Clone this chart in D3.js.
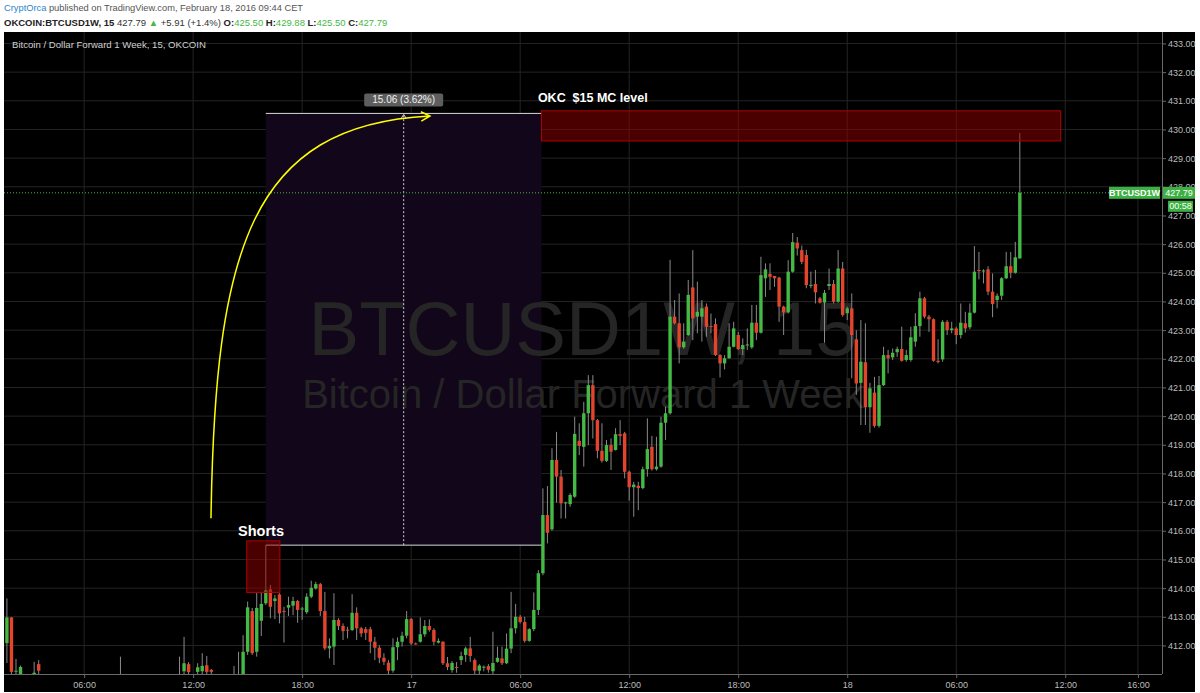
<!DOCTYPE html>
<html>
<head>
<meta charset="utf-8">
<title>BTCUSD1W, 15</title>
<script src="https://cdn.jsdelivr.net/npm/d3@7/dist/d3.min.js"></script>
<style>
  html, body { margin:0; padding:0; background:#ffffff; }
  svg { display:block; font-family: "Liberation Sans", Arial, sans-serif; }
  text { white-space: pre; }
</style>
</head>
<body>
<svg id="chart" width="1200" height="693"></svg>
<script>
// ---------------- DATA (15-minute bars, index = bar number) ----------------
const barIndex = [0,1,2,3,6,7,25,38,39,40,42,43,44,45,50,51].concat(d3.range(52, 224));

const openPrices = [
  412.08,412.98,411.10,411.00,411.00,411.35,410.95,410.95,411.10,411.35,411.08,411.10,411.31,411.15,410.90,410.95,
  411.00,411.78,413.20,411.78,412.86,413.47,413.96,413.55,
  413.78,413.20,413.32,413.39,413.55,413.27,413.16,413.70,413.99,414.14,
  413.20,411.90,411.96,412.89,412.68,412.55,412.54,413.14,412.60,412.57,
  412.57,412.13,411.92,411.57,411.40,411.12,411.94,412.13,412.34,412.92,
  412.07,412.13,412.39,412.68,412.54,412.10,412.13,411.38,411.14,411.25,
  411.49,411.67,411.90,411.49,411.12,411.25,411.28,411.10,411.43,411.55,
  411.38,411.89,412.60,413.00,412.82,412.16,412.57,413.24,414.52,416.55,
  416.05,418.47,417.89,416.98,416.93,417.19,419.14,418.93,420.10,421.08,
  419.86,418.79,418.44,418.99,418.82,419.37,419.40,418.06,417.52,417.57,
  417.49,418.15,418.93,418.15,418.24,419.77,420.10,423.47,423.24,422.40,
  422.83,424.49,423.47,423.47,423.82,423.14,423.21,422.13,421.84,422.02,
  422.42,422.83,422.34,422.48,422.40,423.26,422.91,424.81,424.96,424.89,
  424.83,423.82,423.62,425.04,426.05,425.79,425.62,424.57,424.61,424.11,
  423.96,424.54,424.61,423.99,425.15,423.59,423.76,422.68,421.16,421.88,
  420.31,420.82,419.66,421.08,422.13,422.05,422.23,422.34,421.96,421.96,
  422.60,423.14,424.11,423.47,423.38,421.93,421.98,423.29,423.00,423.06,
  422.83,423.24,423.10,423.61,425.10,425.08,425.12,424.34,424.05,424.20,
  424.81,425.23,425.00,425.50
];
const highPrices = [
  413.64,412.98,411.53,411.30,411.43,411.49,411.61,411.61,412.30,411.42,411.38,411.73,411.63,411.18,411.28,411.78,
  412.36,413.53,413.31,413.83,413.87,415.50,414.11,413.76,
  413.82,413.35,413.70,413.70,413.59,413.35,413.82,414.26,414.22,414.18,
  413.87,412.25,413.82,412.95,412.77,412.65,413.79,413.33,412.65,412.65,
  412.65,412.30,412.01,411.73,411.49,412.25,412.28,412.48,413.20,412.96,
  412.10,412.98,412.89,412.91,412.60,412.25,412.15,411.60,411.46,411.42,
  411.78,411.96,412.30,411.55,411.35,411.30,411.35,412.48,411.96,411.96,
  412.42,413.87,413.45,413.06,413.00,412.60,413.85,414.63,417.48,417.56,
  418.88,419.45,418.12,417.01,417.31,419.98,419.75,420.50,421.43,421.43,
  419.90,419.75,419.17,419.22,419.58,419.86,419.45,418.10,417.71,417.71,
  418.24,419.92,419.31,419.28,419.98,420.33,425.45,424.05,424.28,423.24,
  424.75,425.79,424.69,424.05,423.93,423.58,423.41,422.16,422.13,423.24,
  423.29,422.94,422.71,423.06,423.88,423.88,425.56,425.33,425.33,424.89,
  424.86,423.85,425.44,426.39,426.25,425.95,425.80,425.04,425.10,424.16,
  424.40,425.15,424.75,425.79,425.38,423.82,424.28,423.00,423.35,423.24,
  421.16,421.37,421.40,422.42,422.31,422.36,422.42,423.12,422.31,423.12,
  423.59,424.34,424.16,423.53,423.41,422.68,423.35,423.35,423.29,423.12,
  423.93,423.64,423.93,425.93,425.73,425.12,425.23,424.98,424.28,424.85,
  425.73,425.73,426.08,429.88
];
const lowPrices = [
  411.39,411.00,410.90,410.90,410.90,411.00,410.90,410.90,411.00,411.00,411.00,411.00,411.00,411.00,410.80,410.80,
  410.90,411.67,411.67,411.61,412.33,413.41,412.95,412.92,
  412.77,412.10,413.03,413.06,412.79,412.89,413.10,413.65,413.95,413.03,
  411.84,411.55,411.32,412.54,412.19,412.25,412.50,412.19,412.30,412.19,
  411.73,411.49,411.38,411.32,411.00,411.05,411.49,411.96,412.25,412.01,
  412.03,412.10,412.30,412.48,412.01,412.07,411.32,411.14,411.05,411.05,
  411.32,411.43,411.43,411.00,411.00,411.10,411.05,411.00,411.40,411.32,
  411.35,411.73,412.42,412.77,412.10,412.13,412.50,413.06,414.45,415.56,
  416.00,416.98,416.43,416.43,416.84,417.15,418.64,418.24,418.99,419.22,
  418.53,418.38,418.40,418.12,418.80,418.99,417.83,417.05,416.49,416.72,
  417.45,417.89,418.10,418.10,418.20,419.17,420.05,423.20,421.84,422.35,
  422.80,422.65,422.89,422.60,422.77,422.89,422.10,421.35,421.63,422.00,
  422.40,422.31,422.13,422.31,422.35,422.65,422.88,424.16,424.40,424.51,
  423.29,422.83,423.58,425.00,425.60,425.30,424.46,424.46,423.93,423.93,
  422.56,424.40,423.93,423.95,423.47,423.35,421.32,420.74,419.69,419.69,
  419.42,419.60,419.60,421.05,421.49,421.96,422.07,421.90,421.90,421.90,
  422.42,422.77,423.41,422.94,421.90,421.84,421.90,422.83,422.89,422.51,
  422.71,422.91,423.03,423.58,424.77,424.63,424.22,423.45,423.76,424.05,
  424.78,424.81,424.97,425.50
];
const closePrices = [
  412.98,411.08,411.12,411.25,411.05,411.12,410.98,410.98,411.38,411.07,411.24,411.29,411.08,411.08,410.95,410.98,
  411.78,413.33,411.73,413.31,413.45,413.93,413.35,413.64,
  413.12,413.18,413.41,413.55,413.24,413.29,413.70,414.01,414.14,413.20,
  411.90,411.98,412.89,412.68,412.50,412.54,413.14,412.60,412.42,412.44,
  412.13,411.92,411.57,411.43,411.12,411.94,412.13,412.34,412.92,412.07,
  412.06,412.39,412.68,412.54,412.13,412.16,411.38,411.25,411.39,411.24,
  411.63,411.90,411.63,411.12,411.30,411.26,411.15,411.39,411.57,411.38,
  411.89,412.60,413.00,412.82,412.16,412.57,413.24,414.52,416.55,415.93,
  418.47,417.89,416.96,416.99,417.25,419.38,418.96,420.10,421.08,419.86,
  418.79,418.44,418.99,418.76,419.37,419.31,418.06,417.52,417.61,417.49,
  418.15,418.85,418.15,418.24,419.77,420.10,423.47,423.24,422.40,422.60,
  424.23,423.41,423.64,423.76,423.12,423.13,422.13,421.84,422.02,422.42,
  423.06,422.34,422.48,422.50,423.26,422.91,424.92,425.12,424.86,424.81,
  423.82,423.62,425.04,426.07,425.85,425.38,424.57,424.58,424.32,423.96,
  424.30,424.61,423.99,425.15,423.53,423.76,422.83,421.14,421.90,420.31,
  420.97,419.66,421.08,422.13,422.02,422.21,422.34,421.93,422.13,422.75,
  423.14,424.11,423.47,423.38,421.93,421.89,423.29,423.00,423.06,422.83,
  423.26,423.06,423.61,425.04,425.06,425.08,424.34,423.91,424.20,424.81,
  425.23,425.00,425.54,427.79
];

const priceTicks = [412,413,414,415,416,417,418,419,420,421,422,423,424,425,426,427,428,429,430,431,432,433];
const timeTickBars = [17,41,65,89,113,137,161,185,209,233,249];
const timeTickLabels = ["06:00","12:00","18:00","17","06:00","12:00","18:00","18","06:00","12:00","16:00"];

const lastPrice = 427.79;
const symbolLabel = "BTCUSD1W";
const countdownLabel = "00:58";

// drawings, in data units (bar index, price)
const measureBars = [57, 117.7];
const measurePrices = [415.50, 430.56];
const measureText = "15.06 (3.62%)";
const okcZoneBars = [117.7, 232.0];
const okcZonePrices = [429.60, 430.65];
const okcText = "OKC  $15 MC level";
const okcTextAnchor = [116.9, 430.96];
const shortsZoneBars = [52.8, 60.1];
const shortsZonePrices = [413.85, 415.65];
const shortsText = "Shorts";
const shortsTextAnchor = [50.9, 415.82];
const arrowBars = [44.93, 45.81, 53.51, 93.13];
const arrowPrices = [416.44, 425.79, 430.15, 430.47];

// ---------------- LAYOUT ----------------
const W = 1200, H = 693;
const plot = {left: 4, right: 1162, top: 32, bottom: 674};
const x = d3.scaleLinear().domain([-0.64, 254.3]).range([plot.left, plot.right]);
const y = d3.scaleLinear().domain([411.005, 433.40]).range([plot.bottom, plot.top]);

const UP = "#45b945", DOWN = "#e4442c", WICK = "#8a8a8a";

const svg = d3.select("#chart");
svg.append("rect").attr("width", W).attr("height", H).attr("fill", "#ffffff");

// header
const h1 = svg.append("text").attr("x", 4).attr("y", 11).attr("font-size", 9.3);
h1.append("tspan").attr("fill", "#2a86c8").text("CryptOrca");
h1.append("tspan").attr("fill", "#555").text(" published on TradingView.com, February 18, 2016 09:44 CET");

const h2 = svg.append("text").attr("x", 4).attr("y", 26).attr("font-size", 9.5).attr("fill", "#333");
const h2parts = [
  ["OKCOIN:BTCUSD1W, 15", "#222", "bold"],
  [" 427.79 ", "#333", "normal"],
  ["\u25B2", UP, "normal"],
  [" +5.91 (+1.4%) ", "#333", "normal"],
  ["O:", "#222", "bold"], ["425.50", UP, "normal"],
  [" H:", "#222", "bold"], ["429.88", UP, "normal"],
  [" L:", "#222", "bold"], ["425.50", UP, "normal"],
  [" C:", "#222", "bold"], ["427.79", UP, "normal"]
];
h2parts.forEach(p => h2.append("tspan").attr("fill", p[1]).attr("font-weight", p[2]).text(p[0]));

// chart background
svg.append("rect").attr("x", 4).attr("y", 32).attr("width", 1191).attr("height", 660).attr("fill", "#000");

svg.append("defs").append("clipPath").attr("id", "plotClip")
  .append("rect").attr("x", plot.left).attr("y", plot.top)
  .attr("width", plot.right - plot.left).attr("height", plot.bottom - plot.top);

const g = svg.append("g").attr("clip-path", "url(#plotClip)");

// grid
g.append("g").selectAll("line").data(priceTicks).join("line")
  .attr("x1", plot.left).attr("x2", plot.right)
  .attr("y1", d => y(d)).attr("y2", d => y(d))
  .attr("stroke", "#242424").attr("stroke-width", 1);
g.append("g").selectAll("line").data(timeTickBars).join("line")
  .attr("x1", d => x(d)).attr("x2", d => x(d))
  .attr("y1", plot.top).attr("y2", plot.bottom)
  .attr("stroke", "#242424").attr("stroke-width", 1);

// measurement region (behind watermark)
g.append("rect")
  .attr("x", x(measureBars[0])).attr("width", x(measureBars[1]) - x(measureBars[0]))
  .attr("y", y(measurePrices[1])).attr("height", y(measurePrices[0]) - y(measurePrices[1]))
  .attr("fill", "#12071a");

// watermark
const cx = (plot.left + plot.right) / 2;
g.append("text").attr("x", cx).attr("y", 355).attr("text-anchor", "middle")
  .attr("font-size", 76).attr("fill", "#252525").text("BTCUSD1W, 15");
g.append("text").attr("x", cx).attr("y", 408).attr("text-anchor", "middle")
  .attr("font-size", 40).attr("fill", "#252525").text("Bitcoin / Dollar Forward 1 Week");

// chart title
svg.append("text").attr("x", 12).attr("y", 48).attr("font-size", 9.6).attr("fill", "#d0d0d0")
  .text("Bitcoin / Dollar Forward 1 Week, 15, OKCOIN");

// candles
const candles = barIndex.map((b, i) => ({b, o: openPrices[i], h: highPrices[i], l: lowPrices[i], c: closePrices[i]}));
const bw = 3.4;
const cg = g.append("g");
cg.selectAll("line").data(candles).join("line")
  .attr("x1", d => x(d.b)).attr("x2", d => x(d.b))
  .attr("y1", d => y(d.h)).attr("y2", d => y(d.l))
  .attr("stroke", WICK).attr("stroke-width", 1);
cg.selectAll("rect").data(candles).join("rect")
  .attr("x", d => x(d.b) - bw / 2).attr("width", bw)
  .attr("y", d => y(Math.max(d.o, d.c)))
  .attr("height", d => Math.max(1, Math.abs(y(d.o) - y(d.c))))
  .attr("fill", d => d.c >= d.o ? UP : DOWN);

// measurement lines
g.append("line").attr("x1", x(measureBars[0])).attr("x2", x(measureBars[1]))
  .attr("y1", y(measurePrices[1])).attr("y2", y(measurePrices[1])).attr("stroke", "#d8d8d8");
g.append("line").attr("x1", x(measureBars[0])).attr("x2", x(measureBars[1]))
  .attr("y1", y(measurePrices[0])).attr("y2", y(measurePrices[0])).attr("stroke", "#d8d8d8");
const midBar = (measureBars[0] + measureBars[1]) / 2;
g.append("line").attr("x1", x(midBar)).attr("x2", x(midBar))
  .attr("y1", y(measurePrices[0])).attr("y2", y(measurePrices[1]) + 2)
  .attr("stroke", "#cfcfcf").attr("stroke-dasharray", "2,2");
g.append("path")
  .attr("d", `M${x(midBar) - 2.5},${y(measurePrices[1]) + 5} L${x(midBar)},${y(measurePrices[1]) + 1} L${x(midBar) + 2.5},${y(measurePrices[1]) + 5}`)
  .attr("fill", "none").attr("stroke", "#cfcfcf");
const mlw = 79, mlh = 13;
g.append("rect").attr("x", x(midBar) - mlw / 2).attr("y", y(measurePrices[1]) - 7 - mlh)
  .attr("width", mlw).attr("height", mlh).attr("rx", 2).attr("fill", "#5e5e5e");
g.append("text").attr("x", x(midBar)).attr("y", y(measurePrices[1]) - 10.5)
  .attr("text-anchor", "middle").attr("font-size", 10).attr("fill", "#f0f0f0").text(measureText);

// zones
function zone(bars, prices) {
  g.append("rect")
    .attr("x", x(bars[0])).attr("width", x(bars[1]) - x(bars[0]))
    .attr("y", y(prices[1])).attr("height", y(prices[0]) - y(prices[1]))
    .attr("fill", "rgba(150,0,0,0.5)").attr("stroke", "#b00000").attr("stroke-width", 1);
}
zone(okcZoneBars, okcZonePrices);
zone(shortsZoneBars, shortsZonePrices);

// last price line
g.append("line").attr("x1", plot.left).attr("x2", 1109)
  .attr("y1", y(lastPrice)).attr("y2", y(lastPrice))
  .attr("stroke", UP).attr("stroke-dasharray", "1,2");

// yellow arrow
const ap = arrowBars.map((b, i) => [x(b), y(arrowPrices[i])]);
const path = d3.path();
path.moveTo(ap[0][0], ap[0][1]);
path.bezierCurveTo(ap[1][0], ap[1][1], ap[2][0], ap[2][1], ap[3][0], ap[3][1]);
g.append("path").attr("d", path.toString()).attr("fill", "none")
  .attr("stroke", "#ffff00").attr("stroke-width", 1.5);
const ang = Math.atan2(ap[3][1] - ap[2][1], ap[3][0] - ap[2][0]);
const hl = 10, ha = Math.PI / 6.5;
const tip = ap[3];
g.append("path")
  .attr("d", `M${tip[0] - hl * Math.cos(ang - ha)},${tip[1] - hl * Math.sin(ang - ha)} L${tip[0]},${tip[1]} L${tip[0] - hl * Math.cos(ang + ha)},${tip[1] - hl * Math.sin(ang + ha)}`)
  .attr("fill", "none").attr("stroke", "#ffff00").attr("stroke-width", 1.5);

// text labels
svg.append("text").attr("x", x(okcTextAnchor[0])).attr("y", y(okcTextAnchor[1]))
  .attr("font-size", 12.5).attr("font-weight", "bold").attr("fill", "#ffffff").text(okcText);
svg.append("text").attr("x", x(shortsTextAnchor[0])).attr("y", y(shortsTextAnchor[1]))
  .attr("font-size", 14.5).attr("font-weight", "bold").attr("fill", "#ffffff").text(shortsText);

// axes
const yAxis = d3.axisRight(y).tickValues(priceTicks).tickFormat(d3.format(".2f")).tickSize(4).tickPadding(2);
const ya = svg.append("g").attr("transform", `translate(${plot.right},0)`).call(yAxis);
ya.select(".domain").attr("stroke", "#6a6a6a").attr("d", `M0.5,${plot.top}V${plot.bottom}`);
ya.selectAll(".tick line").attr("stroke", "#6a6a6a");
ya.selectAll(".tick text").attr("fill", "#bdbdbd").attr("font-size", 9)
  .attr("font-family", "Liberation Sans, Arial, sans-serif");

const xAxis = d3.axisBottom(x).tickValues(timeTickBars).tickFormat((d, i) => timeTickLabels[i]).tickSize(4).tickPadding(4);
const xa = svg.append("g").attr("transform", `translate(0,${plot.bottom})`).call(xAxis);
xa.select(".domain").attr("stroke", "#6a6a6a").attr("d", `M${plot.left},0.5H${plot.right}`);
xa.selectAll(".tick line").attr("stroke", "#6a6a6a");
xa.selectAll(".tick text").attr("fill", "#bdbdbd").attr("font-size", 9)
  .attr("font-family", "Liberation Sans, Arial, sans-serif");

// last price labels (drawn over the axis, as in the reference the 428.00 label sits behind them)
const ly = y(lastPrice);
svg.append("rect").attr("x", 1109).attr("y", ly - 6).attr("width", 51).attr("height", 12).attr("fill", "#3cb043");
svg.append("text").attr("x", 1134.5).attr("y", ly + 3.5).attr("text-anchor", "middle")
  .attr("font-size", 9).attr("font-weight", "bold").attr("fill", "#fff").text(symbolLabel);
svg.append("rect").attr("x", 1163).attr("y", ly - 6).attr("width", 32).attr("height", 12).attr("fill", "#3cb043");
svg.append("text").attr("x", 1179).attr("y", ly + 3.5).attr("text-anchor", "middle")
  .attr("font-size", 9).attr("fill", "#fff").text(d3.format(".2f")(lastPrice));
svg.append("rect").attr("x", 1168).attr("y", ly + 8).attr("width", 25).attr("height", 11).attr("fill", "#3cb043");
svg.append("text").attr("x", 1180.5).attr("y", ly + 16.5).attr("text-anchor", "middle")
  .attr("font-size", 9).attr("fill", "#fff").text(countdownLabel);
</script>
</body>
</html>
